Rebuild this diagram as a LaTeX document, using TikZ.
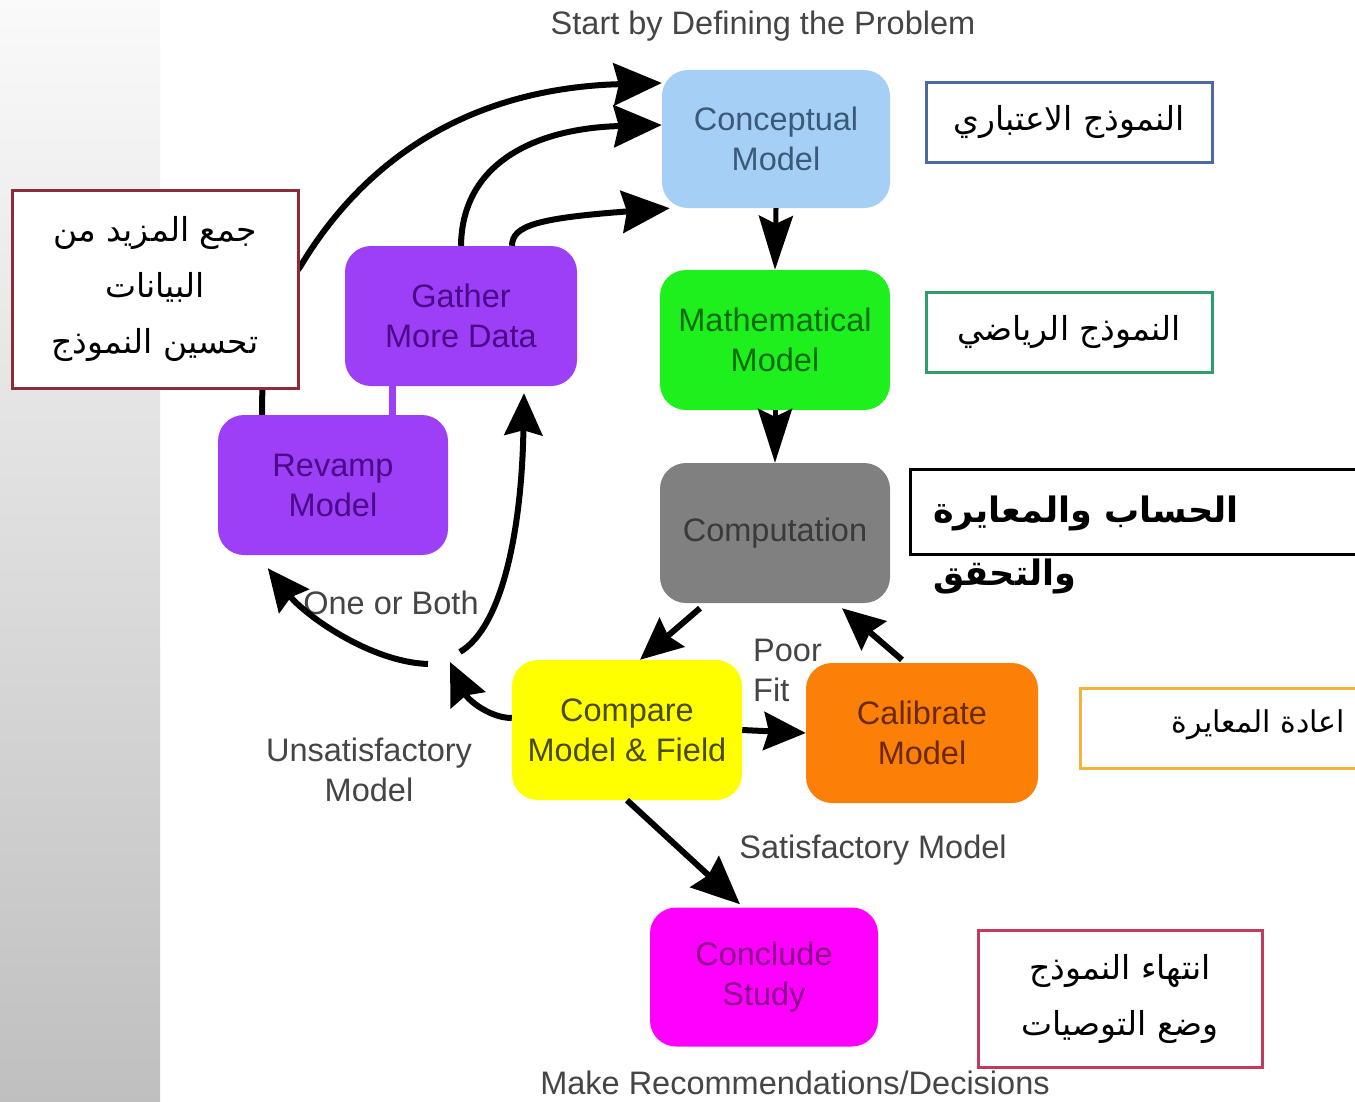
\documentclass[tikz,border=0pt]{standalone}
\usepackage{fontspec}
\setmainfont{Liberation Sans}
\newfontfamily\arabicfont[Script=Arabic]{DejaVu Sans}
\TeXXeTstate=1
\usetikzlibrary{arrows.meta,calc}
\definecolor{cconcept}{HTML}{A6CFF6}
\definecolor{tconcept}{HTML}{3A5A7A}
\definecolor{cmath}{HTML}{1EF01E}
\definecolor{tmath}{HTML}{0A6A0A}
\definecolor{ccomp}{HTML}{808080}
\definecolor{tcomp}{HTML}{3A3A3A}
\definecolor{ccompare}{HTML}{FFFF00}
\definecolor{tcompare}{HTML}{4A4A00}
\definecolor{ccalib}{HTML}{FC8008}
\definecolor{tcalib}{HTML}{6A2A00}
\definecolor{cconcl}{HTML}{FF00FF}
\definecolor{tconcl}{HTML}{8A008A}
\definecolor{cpurple}{HTML}{9D3FF7}
\definecolor{tpurple}{HTML}{4A0A8A}
\definecolor{lblgray}{HTML}{454545}
\definecolor{bconcept}{HTML}{4D6AA5}
\definecolor{bmath}{HTML}{2F9E6C}
\definecolor{bcalib}{HTML}{F2B33A}
\definecolor{bconcl}{HTML}{C43A5C}
\definecolor{bgather}{HTML}{8A2C3C}
\tikzset{
  box/.style={rounded corners=26pt, minimum width=230pt, minimum height=140pt, inner sep=0pt, align=center, font=\fontsize{32.5}{40}\selectfont},
  lbl/.style={text=lblgray, align=center, inner sep=0pt, font=\fontsize{32.5}{40}\selectfont},
  abox/.style={draw, line width=3pt, fill=white, inner sep=0pt, align=center, font=\arabicfont\fontsize{33}{56}\selectfont},
  arr/.style={line width=6pt, -{Stealth[length=48pt,width=42pt,inset=5pt]}},
  arrsmall/.style={line width=6pt, -{Stealth[length=42pt,width=38pt,inset=5pt]}},
  varr/.style={line width=5pt, -{Stealth[length=54pt,width=34pt,inset=8pt]}},
}
\begin{document}
\begin{tikzpicture}[x=1pt,y=-1pt]
\useasboundingbox (0,0) rectangle (1355,1101);
\fill[white] (0,0) rectangle (1355,1101);
\shade[top color=black!2, bottom color=black!25] (0,0) rectangle (160,1101);

% main boxes
\node[box, fill=cconcept, text=tconcept, minimum width=228pt, minimum height=138pt] (concept) at (776,139) {Conceptual\\Model};
\node[box, fill=cmath, text=tmath] (math) at (775,340) {Mathematical\\Model};
\node[box, fill=ccomp, text=tcomp] (comp) at (775,533) {Computation};
\node[box, fill=ccompare, text=tcompare] (compare) at (627,730) {Compare\\Model \& Field};
\node[box, fill=ccalib, text=tcalib, minimum width=232pt] (calib) at (922,733) {Calibrate\\Model};
\node[box, fill=cconcl, text=tconcl, minimum width=228pt, minimum height=139pt] (concl) at (764,977) {Conclude\\Study};
\node[box, fill=cpurple, text=tpurple] (revamp) at (333,485) {Revamp\\Model};
\node[box, fill=cpurple, text=tpurple, minimum width=232pt] (gather) at (461,316) {Gather\\More Data};

% labels
\node[lbl] (start) at (763,26) {Start by Defining the Problem};
\node[lbl] (oneboth) at (391,603) {One or Both};
\node[lbl] (unsat) at (369,770) {Unsatisfactory\\Model};
\node[lbl, align=left, anchor=west] (poor) at (753,670) {Poor\\Fit};
\node[lbl] (satis) at (873,850) {Satisfactory Model};
\node[lbl] (recom) at (795,1083) {Make Recommendations/Decisions};

% junction
\coordinate (jt) at (450,662);
\coordinate (jl) at (428,664);
\coordinate (jr) at (460,652);

% connectors
\draw[line width=7pt, draw=cpurple] ([xshift=-69]gather.south) -- ([xshift=59]revamp.north);
\draw[arr] ([xshift=-71]revamp.north) .. controls (262,330) and (275,300) .. (300,267) .. controls (370,150) and (480,88) .. ([yshift=56]concept.west);
\draw[arr] (gather.north) .. controls (462,160) and (540,128) .. ([yshift=14]concept.west);
\draw[arr] ([xshift=51]gather.north) .. controls (512,225) and (540,218) .. ([xshift=8]concept.south west);
\draw[varr] (concept.south) -- (math.north);
\draw[varr] (math.south) -- (comp.north);
\draw[arrsmall] ([xshift=-75,yshift=-5]comp.south) -- ([xshift=13]compare.north);
\draw[arrsmall] ([xshift=-20,yshift=3]calib.north) -- ([xshift=67,yshift=-5]comp.south);
\draw[arrsmall] (compare.east) -- (calib.west);
\draw[arr] (compare.south) -- ([xshift=-24,yshift=3]concl.north);
\draw[arrsmall] ([yshift=12]compare.west) .. controls (490,718) and (468,700) .. (jt);
\draw[arrsmall] (jl) .. controls (370,662) and (305,615) .. ([xshift=50,yshift=-13]revamp.south west);
\draw[arrsmall] (jr) .. controls (505,625) and (522,520) .. ([xshift=63,yshift=-7]gather.south);

% Arabic boxes
\node[abox, draw=bconcept, minimum width=286pt, minimum height=80pt] (a1) at (1069,122) {\beginR النموذج الاعتباري\endR};
\node[abox, draw=bmath, minimum width=286pt, minimum height=80pt] (a2) at (1069,332) {\beginR النموذج الرياضي\endR};
\node[abox, draw=black, minimum width=460pt, minimum height=85pt] (a3) at (1140,512) {};
\node[inner sep=0pt, align=left, anchor=west, font=\arabicfont\bfseries\fontsize{35}{63}\selectfont] (a3t) at (933,545) {\beginR الحساب والمعايرة\endR\\\beginR والتحقق\endR};
\node[abox, draw=bcalib, minimum width=290pt, minimum height=80pt] (a4) at (1225,728) {};
\node[inner sep=0pt, anchor=east, font=\arabicfont\fontsize{30}{56}\selectfont] (a4t) at (1345,725) {\beginR اعادة المعايرة\endR};
\node[abox, draw=bconcl, minimum width=284pt, minimum height=137pt] (a5) at (1120,999) {\beginR انتهاء النموذج\endR\\\beginR وضع التوصيات\endR};
\node[abox, draw=bgather, minimum width=286pt, minimum height=198pt] (a6) at (155,289) {\beginR جمع المزيد من\endR\\\beginR البيانات\endR\\\beginR تحسين النموذج\endR};
\end{tikzpicture}
\end{document}
